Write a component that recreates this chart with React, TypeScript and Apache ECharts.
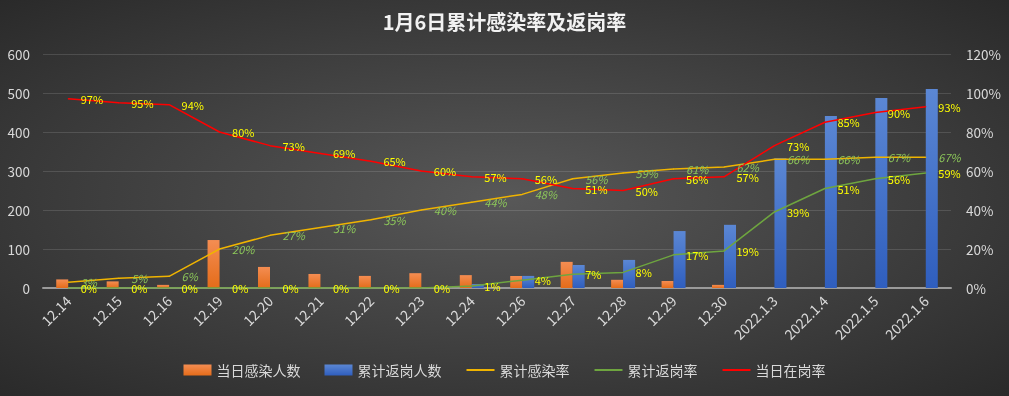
import React, { useEffect, useRef } from "react";
import * as echarts from "echarts";

const categories = ["12.14", "12.15", "12.16", "12.19", "12.20", "12.21", "12.22", "12.23", "12.24", "12.26", "12.27", "12.28", "12.29", "12.30", "2022.1.3", "2022.1.4", "2022.1.5", "2022.1.6"];
const dailyInfected = [22, 17, 8, 123, 54, 36, 31, 38, 33, 31, 67, 21, 18, 8, 0, 0, 0, 0];
const cumulativeReturned = [0, 0, 0, 0, 0, 0, 0, 0, 10, 31, 59, 72, 146, 162, 333, 441, 487, 510];
const cumInfectionRate = [3, 5, 6, 20, 27, 31, 35, 40, 44, 48, 56, 59, 61, 62, 66, 66, 67, 67];
const cumReturnRate = [0, 0, 0, 0, 0, 0, 0, 0, 1, 4, 7, 8, 17, 19, 39, 51, 56, 59];
const onDutyRate = [97, 95, 94, 80, 73, 69, 65, 60, 57, 56, 51, 50, 56, 57, 73, 85, 90, 93];

const seriesNames = ["当日感染人数", "累计返岗人数", "累计感染率", "累计返岗率", "当日在岗率"];
const titleText = "1月6日累计感染率及返岗率";

const FONT = "'Noto Sans CJK SC', 'Noto Sans', sans-serif";

export default function App() {
  const ref = useRef<HTMLDivElement>(null);
  useEffect(() => {
    if (!ref.current) return;
    const chart = echarts.init(ref.current, null, { renderer: "svg" });
    const pct = (p: any) => p.value + "%";
    const yellowLabel = {
      show: true,
      position: "right",
      distance: 12,
      offset: [0, 2],
      color: "#FFFF00",
      fontSize: 11,
      fontFamily: FONT,
      formatter: pct,
    };
    const lineSeries = (name: string, data: number[], color: string, label: any) => ({
      name,
      type: "line",
      yAxisIndex: 1,
      data,
      symbol: "circle",
      symbolSize: 1,
      showSymbol: true,
      z: 3,
      lineStyle: { color, width: 1.5 },
      itemStyle: { color },
      label,
      labelLayout: { hideOverlap: false },
    });
    chart.setOption({
      animation: false,
      backgroundColor: {
        type: "radial",
        x: 0.5,
        y: 0.5,
        r: 0.75,
        colorStops: [
          { offset: 0, color: "#585858" },
          { offset: 1, color: "#272727" },
        ],
      },
      textStyle: { fontFamily: FONT },
      title: {
        text: titleText,
        left: "center",
        top: 6,
        textStyle: { color: "#F2F2F2", fontSize: 20, fontWeight: "bold", fontFamily: FONT },
      },
      legend: {
        bottom: 14,
        left: "center",
        itemWidth: 28,
        itemHeight: 11,
        itemGap: 24,
        textStyle: { color: "#D9D9D9", fontSize: 14, fontFamily: FONT },
        data: [
          { name: seriesNames[0], icon: "rect" },
          { name: seriesNames[1], icon: "rect" },
          { name: seriesNames[2], itemStyle: { opacity: 0 } },
          { name: seriesNames[3], itemStyle: { opacity: 0 } },
          { name: seriesNames[4], itemStyle: { opacity: 0 } },
        ],
      },
      grid: { left: 43, right: 58, top: 54, bottom: 108, containLabel: false },
      xAxis: {
        type: "category",
        data: categories,
        axisLine: { lineStyle: { color: "#9A9A9A", width: 2 } },
        axisTick: { show: false },
        axisLabel: { rotate: 45, color: "#D9D9D9", fontSize: 14, margin: 10, interval: 0, fontFamily: FONT },
      },
      yAxis: [
        {
          type: "value",
          min: 0,
          max: 600,
          interval: 100,
          axisLine: { show: false },
          axisTick: { show: false },
          axisLabel: { color: "#D9D9D9", fontSize: 13.5, margin: 13, fontFamily: FONT },
          splitLine: { lineStyle: { color: "rgba(255,255,255,0.13)", width: 1 } },
        },
        {
          type: "value",
          min: 0,
          max: 120,
          interval: 20,
          axisLine: { show: false },
          axisTick: { show: false },
          axisLabel: { color: "#D9D9D9", fontSize: 13.5, margin: 15, formatter: "{value}%", fontFamily: FONT },
          splitLine: { show: false },
        },
      ],
      series: [
        {
          name: seriesNames[0],
          type: "bar",
          data: dailyInfected,
          barWidth: 12,
          barGap: "0%",
          itemStyle: {
            color: {
              type: "linear", x: 0, y: 0, x2: 0, y2: 1,
              colorStops: [
                { offset: 0, color: "#F48D52" },
                { offset: 1, color: "#E46C1A" },
              ],
            },
          },
        },
        {
          name: seriesNames[1],
          type: "bar",
          data: cumulativeReturned,
          barWidth: 12,
          barGap: "0%",
          itemStyle: {
            color: {
              type: "linear", x: 0, y: 0, x2: 0, y2: 1,
              colorStops: [
                { offset: 0, color: "#5B87D4" },
                { offset: 1, color: "#2F5EBE" },
              ],
            },
          },
        },
        lineSeries(seriesNames[2], cumInfectionRate, "#F0B400", {
          show: true,
          position: "right",
          distance: 12,
          offset: [0, 2],
          color: "#8DC85A",
          fontStyle: "italic",
          fontSize: 11,
          fontFamily: FONT,
          formatter: pct,
        }),
        lineSeries(seriesNames[3], cumReturnRate, "#6EA53F", yellowLabel),
        lineSeries(seriesNames[4], onDutyRate, "#FF0000", yellowLabel),
      ],
    });
    return () => chart.dispose();
  }, []);
  return (
    <div
      ref={ref}
      style={{ position: "fixed", left: 0, top: 0, width: 1009, height: 396 }}
    />
  );
}
